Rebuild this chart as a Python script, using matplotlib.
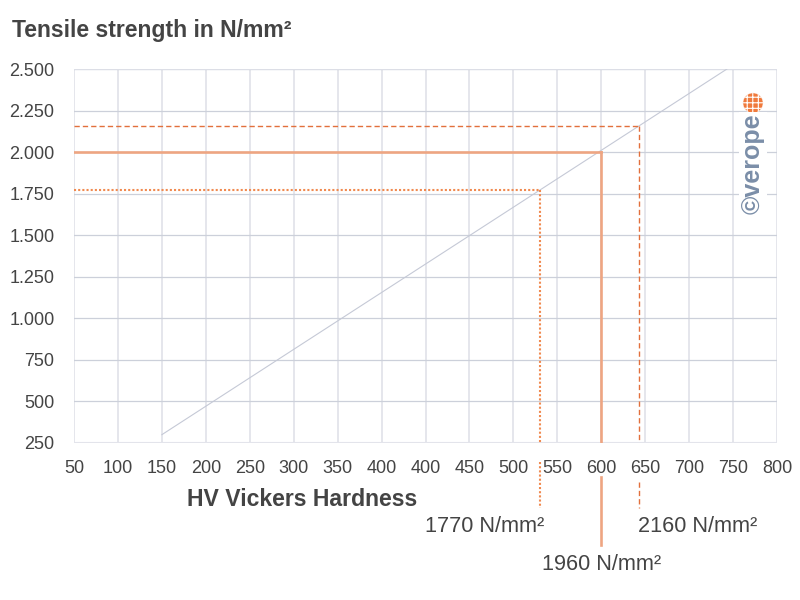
import numpy as np
import matplotlib
matplotlib.use("Agg")
import matplotlib.pyplot as plt

plt.rcParams['font.family'] = ['Liberation Sans', 'DejaVu Sans']
plt.rcParams['hatch.linewidth'] = 0.8

# x axis: evenly spaced ticks, labels as printed (note the repeated 400)
x_tick_pos = np.arange(0, 801, 50)
x_tick_labels = ['50', '100', '150', '200', '250', '300', '350', '400', '400',
                 '450', '500', '550', '600', '650', '700', '750', '800']
y_ticks = [250, 500, 750, 1000, 1250, 1500, 1750, 2000, 2250, 2500]
y_tick_labels = ['250', '500', '750', '1.000', '1.250', '1.500', '1.750',
                 '2.000', '2.250', '2.500']

# hardness / strength reference line
trend_hv = [100, 743]
trend_ts = [300, 2500]

# rope grades
grade_names = ['1770 N/mm²', '1960 N/mm²', '2160 N/mm²']
grade_hv = [530, 600, 643]
grade_ts = [1770, 2000, 2160]

orange_solid = '#eea582'
orange_dot = '#f08a50'
orange_dash = '#e2703c'
text_col = '#444444'

fig = plt.figure(figsize=(8, 6), dpi=100)
ax = fig.add_axes([0.0925, 0.2617, 0.8788, 0.6233])
ax.set_xlim(0, 800)
ax.set_ylim(250, 2500)

# grid
for xv in x_tick_pos:
    ax.axvline(xv, color='#e3e4eb', lw=1.3, zorder=0)
for yv in y_ticks:
    ax.axhline(yv, color='#ccd0da', lw=0.9, zorder=0)
ax.axhline(2500, color='#dcdee6', lw=1.5, zorder=0)
ax.axhline(250, color='#e3e4eb', lw=1.5, zorder=0)

for s in ax.spines.values():
    s.set_visible(False)

ax.set_xticks(x_tick_pos)
ax.set_xticklabels(x_tick_labels)
ax.set_yticks(y_ticks)
ax.set_yticklabels(y_tick_labels)
ax.tick_params(length=0, labelsize=13, colors=text_col)
ax.tick_params(axis='x', pad=12)
ax.tick_params(axis='y', pad=14)

ax.plot(trend_hv, trend_ts, color='#c5c9d6', lw=0.8, zorder=1)

styles = [
    dict(color=orange_dot, lw=1.5, ls=(0, (1, 1))),
    dict(color=orange_solid, lw=1.9, ls='-'),
    dict(color=orange_dash, lw=1.0, ls=(0, (3.8, 2.2))),
]
# below-axis stubs (axes fraction) and label placement
stubs = [(-0.05, -0.174), (-0.09, -0.273), (-0.105, -0.174)]
label_y = [-0.2246, -0.326, -0.2246]
label_dx = [4, 0, -1]
label_ha = ['right', 'center', 'left']

xt = ax.get_xaxis_transform()
for i in range(3):
    st = styles[i]
    ax.plot([0, grade_hv[i]], [grade_ts[i], grade_ts[i]], zorder=2, **st)
    ax.plot([grade_hv[i], grade_hv[i]], [grade_ts[i], 250], zorder=2, **st)
    ax.plot([grade_hv[i], grade_hv[i]], list(stubs[i]), transform=xt,
            clip_on=False, zorder=2, **st)
    ax.annotate(grade_names[i], xy=(grade_hv[i], label_y[i]), xycoords=xt,
                xytext=(label_dx[i], 0), textcoords='offset pixels',
                ha=label_ha[i], va='center', fontsize=15.6, color=text_col,
                annotation_clip=False)

fig.text(12 / 800, 0.95, 'Tensile strength in N/mm²', fontsize=16.6,
         fontweight='bold', color=text_col, ha='left', va='center')
fig.text(187 / 800, 1 - 500 / 600, 'HV Vickers Hardness', fontsize=16.6,
         fontweight='bold', color=text_col, ha='left', va='center')

# logo
fig.text(753 / 800, 1 - 164 / 600, '©verope', rotation=90, fontsize=18,
         fontweight='bold', color='#7b8ea8', ha='center', va='center',
         bbox=dict(facecolor='white', edgecolor='none', pad=1.5))
ax.scatter([753 / 800], [1 - 103 / 600], transform=fig.transFigure, s=210,
           facecolor='#f07a3c', edgecolor='white', hatch='+++', lw=0.3,
           clip_on=False, zorder=5)

fig.savefig('out.png', dpi=100)
